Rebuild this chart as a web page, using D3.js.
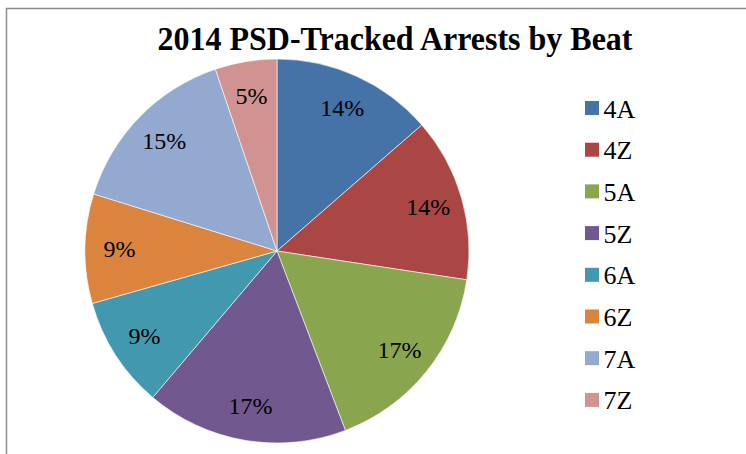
<!DOCTYPE html>
<html>
<head>
<meta charset="utf-8">
<script src="https://cdn.jsdelivr.net/npm/d3@7"></script>
<style>
  html, body { margin: 0; padding: 0; background: #fff; }
  svg { display: block; }
</style>
</head>
<body>
<svg id="chart" width="746" height="454"></svg>
<script>
// Arrest counts per beat
const beats = ["4A", "4Z", "5A", "5Z", "6A", "6Z", "7A", "7Z"];
const arrests = [68, 69, 84, 85, 47, 46, 75, 26];
const sliceColors = ["#4572A7", "#AA4643", "#89A54E", "#71588F", "#4198AF", "#DB843D", "#93A9CF", "#D19392"];
const chartTitle = "2014 PSD-Tracked Arrests by Beat";

const svg = d3.select("#chart");
const W = 746, H = 454;
const serif = "'Liberation Serif', 'Times New Roman', serif";

// chart frame (extends past the right and bottom edges)
svg.append("rect")
  .attr("x", 6.5).attr("y", 8.5)
  .attr("width", W + 20).attr("height", H + 20)
  .attr("fill", "#fff")
  .attr("stroke", "#8c8c8c")
  .attr("stroke-width", 1.5);

svg.append("text")
  .attr("transform", "translate(395,50) scale(1,1.05)")
  .attr("text-anchor", "middle")
  .attr("font-family", serif)
  .attr("font-weight", "bold")
  .attr("font-size", 32)
  .attr("fill", "#000")
  .text(chartTitle);

const cx = 277, cy = 251, R = 192;
const total = d3.sum(arrests);
const data = beats.map((b, i) => ({ beat: b, value: arrests[i], color: sliceColors[i] }));

const pie = d3.pie().value(d => d.value).sort(null);
const arcs = pie(data);
const arc = d3.arc().innerRadius(0).outerRadius(R);
const labelArc = d3.arc().innerRadius(R * 0.82).outerRadius(R * 0.82);

const g = svg.append("g").attr("transform", `translate(${cx},${cy})`);

g.selectAll("path.slice")
  .data(arcs)
  .join("path")
  .attr("class", "slice")
  .attr("d", arc)
  .attr("fill", d => d.data.color)
  .attr("stroke", "#fff")
  .attr("stroke-width", 0.6);

const pct = d3.format(".0%");
g.selectAll("text.pct")
  .data(arcs)
  .join("text")
  .attr("class", "pct")
  .attr("transform", d => `translate(${labelArc.centroid(d)})`)
  .attr("text-anchor", "middle")
  .attr("dominant-baseline", "central")
  .attr("font-family", serif)
  .attr("font-size", 24)
  .attr("fill", "#000")
  .text(d => pct(d.data.value / total));

// legend
const legend = svg.append("g").attr("transform", "translate(585,101)");
const step = 41.7;
const item = legend.selectAll("g.item")
  .data(data)
  .join("g")
  .attr("class", "item")
  .attr("transform", (d, i) => `translate(0,${i * step})`);

item.append("rect")
  .attr("width", 14).attr("height", 14)
  .attr("fill", d => d.color);

item.append("text")
  .attr("x", 18.5).attr("y", 16.5)
  .attr("font-family", serif)
  .attr("font-size", 26)
  .attr("fill", "#000")
  .text(d => d.beat);
</script>
</body>
</html>
